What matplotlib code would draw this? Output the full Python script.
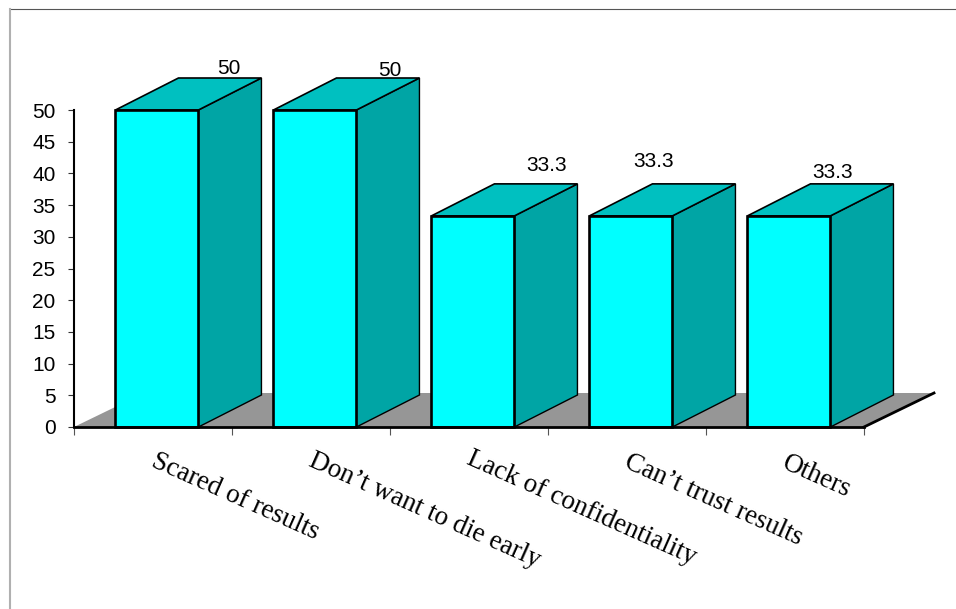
import numpy as np
import matplotlib
matplotlib.use('Agg')
import matplotlib.pyplot as plt
from matplotlib.patches import Polygon
from matplotlib.lines import Line2D

categories = ["Scared of results", "Don\u2019t want to die early", "Lack of confidentiality",
              "Can\u2019t trust results", "Others"]
values = [50, 50, 33.3, 33.3, 33.3]
value_labels = ["50", "50", "33.3", "33.3", "33.3"]
yticks = list(range(0, 55, 5))

# pixel offsets of the labels, they are not placed regularly in the original
label_dx = [72, 75, 74, 23, 44]
label_dy = [-42, -40, -50, -54, -43]
cat_dx = [3, 2, 2, 2, 2]
cat_dy = [-33, -33, -31, -34, -35]

FRONT = '#00ffff'
SIDE = '#00a5a5'
TOP = '#00c0c0'
FLOOR = '#969696'

W, H = 956, 609
fig = plt.figure(figsize=(W / 100, H / 100), dpi=100)
ax = fig.add_axes([74 / W, (H - 427) / H, 790 / W, 317 / H])
ax.set_xlim(0, 5)
ax.set_ylim(0, 50)

# depth of the fake 3d, px converted to data units
px_x = 5 / 790
px_y = 50 / 317
bar_dx = 63 * px_x
bar_dy = 32 * px_y
floor_dx = 70 * px_x
floor_dy = 34 * px_y
width = 83 * px_x
lw = 1.5

ax.add_patch(Polygon([(0, 0), (floor_dx, floor_dy), (5 + floor_dx, floor_dy), (5, 0)],
                     closed=True, fc=FLOOR, ec='none', zorder=1, clip_on=False))
ax.plot([5, 5 + floor_dx], [0, floor_dy], c='k', lw=2, zorder=1.5, clip_on=False)

xpos = np.arange(len(values)) + 0.525
for i, v in enumerate(values):
    x0 = xpos[i] - width / 2
    x1 = xpos[i] + width / 2
    ax.add_patch(Polygon([(x1, 0), (x1 + bar_dx, bar_dy), (x1 + bar_dx, v + bar_dy), (x1, v)],
                         closed=True, fc=SIDE, ec='k', lw=1.0, zorder=2, clip_on=False))
    ax.add_patch(Polygon([(x0, v), (x0 + bar_dx, v + bar_dy), (x1 + bar_dx, v + bar_dy), (x1, v)],
                         closed=True, fc=TOP, ec='k', lw=1.2, zorder=2, clip_on=False))
    ax.add_patch(Polygon([(x0, 0), (x0, v), (x1, v), (x1, 0)],
                         closed=True, fc=FRONT, ec='k', lw=lw + 0.4, zorder=3, clip_on=False))
    ax.annotate(value_labels[i], (xpos[i], v), xytext=(label_dx[i] * 0.72, -label_dy[i] * 0.72),
                textcoords='offset points', ha='center', va='center',
                fontsize=15, family='Liberation Sans', zorder=5)
    ax.annotate(categories[i], (i, 0), xytext=((76 + cat_dx[i]) * 0.72, cat_dy[i] * 0.72),
                textcoords='offset points', ha='left', va='center', rotation=-24,
                rotation_mode='anchor', fontsize=19.5, family='Liberation Serif', zorder=5)

for s in ['top', 'right']:
    ax.spines[s].set_visible(False)
ax.spines['left'].set_linewidth(1.5)
ax.spines['bottom'].set_linewidth(2)
ax.spines['bottom'].set_zorder(4)
ax.patch.set_alpha(0)
ax.set_yticks(yticks)
ax.set_xticks(range(6))
ax.set_xticklabels([])
ax.tick_params(axis='y', length=4.3, width=0.8, labelsize=15, pad=9, color='#333333')
ax.tick_params(axis='x', length=6, width=0.8, color='#555555')
for t in ax.get_yticklabels():
    t.set_family('Liberation Sans')

# slide frame, only top and left show
fig.add_artist(Line2D([10 / W, 1], [1 - 9 / H, 1 - 9 / H], color='#555555', lw=0.8))
fig.add_artist(Line2D([10 / W, 10 / W], [0, 1 - 9 / H], color='#b0b0b0', lw=1.5))

fig.savefig('out.png', dpi=100)
plt.close()
